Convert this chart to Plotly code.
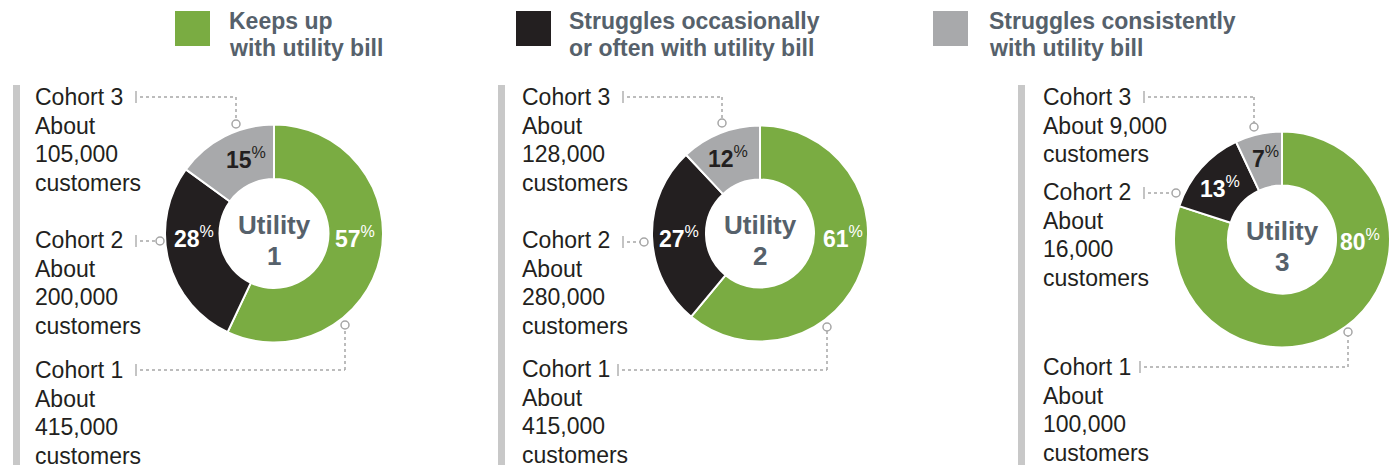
import plotly.graph_objects as go

W, H = 1394, 465

# ---- data ----
categories = ["Keeps up with utility bill",
              "Struggles occasionally or often with utility bill",
              "Struggles consistently with utility bill"]
utility_names = ["1", "2", "3"]
utility1_pct = [57, 28, 15]
utility2_pct = [61, 27, 12]
utility3_pct = [80, 13, 7]
utility1_customers = ["415,000", "200,000", "105,000"]
utility2_customers = ["415,000", "280,000", "128,000"]
utility3_customers = ["100,000", "16,000", "9,000"]
cohort_names = ["Cohort 1", "Cohort 2", "Cohort 3"]

legend_lines = [["Keeps up", "with utility bill"],
                ["Struggles occasionally", "or often with utility bill"],
                ["Struggles consistently", "with utility bill"]]

# ---- styles / layout constants ----
COLORS = ["#7aac42", "#231f20", "#a8a9ab"]
PCT_TEXT_COLORS = ["white", "white", "#231f20"]
TEXT_DARK = "#231f20"
TEXT_SLATE = "#56616b"
LEAD = "#a6a6a6"
FONT = "Liberation Sans, Arial, Helvetica, sans-serif"

def px(x):
    return x / W

def py(y):
    return 1 - y / H

fig = go.Figure()

pies = [
    dict(vals=utility1_pct, cust=utility1_customers, cx=274, cy=233.5, r=109,
         text_x=34, bar_x=13,
         pct_pos=[(355, 237), (194, 237), (246, 158)],
         block_y=[370, 240, 97],
         tick=[(136, 370), (136, 241), (136, 97)],
         leads=[[(140, 370), (345, 370), (345, 329)],
                [(140, 241), (156, 241)],
                [(140, 97), (236, 97), (236, 120)]],
         circ=[(345, 325), (160, 241), (236, 124)]),
    dict(vals=utility2_pct, cust=utility2_customers, cx=760, cy=233.5, r=108,
         text_x=521, bar_x=498,
         pct_pos=[(843, 237), (679, 237), (728, 157)],
         block_y=[369, 240, 97],
         tick=[(618, 370), (623, 242), (623, 97)],
         leads=[[(622, 370), (827, 370), (827, 331)],
                [(627, 242), (640, 242)],
                [(627, 97), (722, 97), (722, 119)]],
         circ=[(827, 327), (644, 242), (722, 123)]),
    dict(vals=utility3_pct, cust=utility3_customers, cx=1282, cy=239.5, r=108,
         text_x=1042, bar_x=1018,
         pct_pos=[(1360, 240), (1220, 187), (1265, 157)],
         block_y=[367, 192, 97],
         tick=[(1140, 367), (1144, 193), (1144, 97)],
         leads=[[(1144, 367), (1348, 367), (1348, 336)],
                [(1148, 193), (1172, 193)],
                [(1148, 97), (1254, 97), (1254, 123)]],
         circ=[(1348, 332), (1176, 193), (1254, 127)]),
]

shapes = []
ann = []

def add_text(x, y, text, size, color, bold=False, xanchor="left"):
    t = f"<b>{text}</b>" if bold else text
    ann.append(dict(x=px(x), y=py(y), xref="paper", yref="paper", text=t,
                    showarrow=False, xanchor=xanchor, yanchor="middle",
                    font=dict(family=FONT, size=size, color=color),
                    borderpad=0))

for i, p in enumerate(pies):
    fig.add_trace(go.Pie(
        values=p["vals"], labels=categories, hole=0.5, sort=False,
        direction="clockwise", rotation=0, textinfo="none",
        marker=dict(colors=COLORS, line=dict(color="white", width=2)),
        domain=dict(x=[px(p["cx"] - p["r"]), px(p["cx"] + p["r"])],
                    y=[py(p["cy"] + p["r"]), py(p["cy"] - p["r"])]),
        showlegend=False, hoverinfo="label+percent"))

    # center label
    add_text(p["cx"], p["cy"] - 8, "Utility", 26, TEXT_SLATE, bold=True, xanchor="center")
    add_text(p["cx"], p["cy"] + 22, utility_names[i], 26, TEXT_SLATE, bold=True, xanchor="center")

    # percentage labels
    for k, v in enumerate(p["vals"]):
        x, y = p["pct_pos"][k]
        ann.append(dict(x=px(x), y=py(y), xref="paper", yref="paper",
                        text=f"<b>{v}</b><sup>%</sup>", showarrow=False,
                        xanchor="center", yanchor="middle", borderpad=0,
                        font=dict(family=FONT, size=23, color=PCT_TEXT_COLORS[k])))

    # left gray bar
    shapes.append(dict(type="rect", xref="paper", yref="paper",
                       x0=px(p["bar_x"]), x1=px(p["bar_x"] + 7), y0=py(465), y1=py(85),
                       fillcolor="#c8c8c8", line=dict(width=0), layer="below"))

    # cohort text blocks
    for k in range(3):
        if i == 2 and k == 2:
            lines = [cohort_names[k], f"About {p['cust'][k]}", "customers"]
        else:
            lines = [cohort_names[k], "About", p["cust"][k], "customers"]
        y0 = p["block_y"][k]
        for j, ln in enumerate(lines):
            add_text(p["text_x"], y0 + j * 28.6, ln, 23, TEXT_DARK)

        # tick
        tx, ty = p["tick"][k]
        shapes.append(dict(type="line", xref="paper", yref="paper",
                           x0=px(tx), x1=px(tx), y0=py(ty - 6), y1=py(ty + 6),
                           line=dict(color="#b0b0b0", width=1.5)))
        pts = p["leads"][k]
        for a, b in zip(pts[:-1], pts[1:]):
            shapes.append(dict(type="line", xref="paper", yref="paper",
                               x0=px(a[0]), x1=px(b[0]), y0=py(a[1]), y1=py(b[1]),
                               line=dict(color=LEAD, width=1.5, dash="dot")))
        cx, cy = p["circ"][k]
        shapes.append(dict(type="circle", xref="paper", yref="paper",
                           x0=px(cx - 4), x1=px(cx + 4), y0=py(cy + 4), y1=py(cy - 4),
                           fillcolor="white", line=dict(color=LEAD, width=1.5)))

# legend
leg_sq_x = [175, 516, 933]
leg_tx_x = [228, 568, 988]
for i in range(3):
    shapes.append(dict(type="rect", xref="paper", yref="paper",
                       x0=px(leg_sq_x[i]), x1=px(leg_sq_x[i] + 35), y0=py(46), y1=py(11),
                       fillcolor=COLORS[i], line=dict(width=0)))
    for j, ln in enumerate(legend_lines[i]):
        add_text(leg_tx_x[i], 21 + j * 27, ln, 23, TEXT_SLATE, bold=True)

fig.update_layout(width=W, height=H, margin=dict(l=0, r=0, t=0, b=0),
                  paper_bgcolor="white", plot_bgcolor="white",
                  shapes=shapes, annotations=ann, showlegend=False)

fig.write_html("out.html")
